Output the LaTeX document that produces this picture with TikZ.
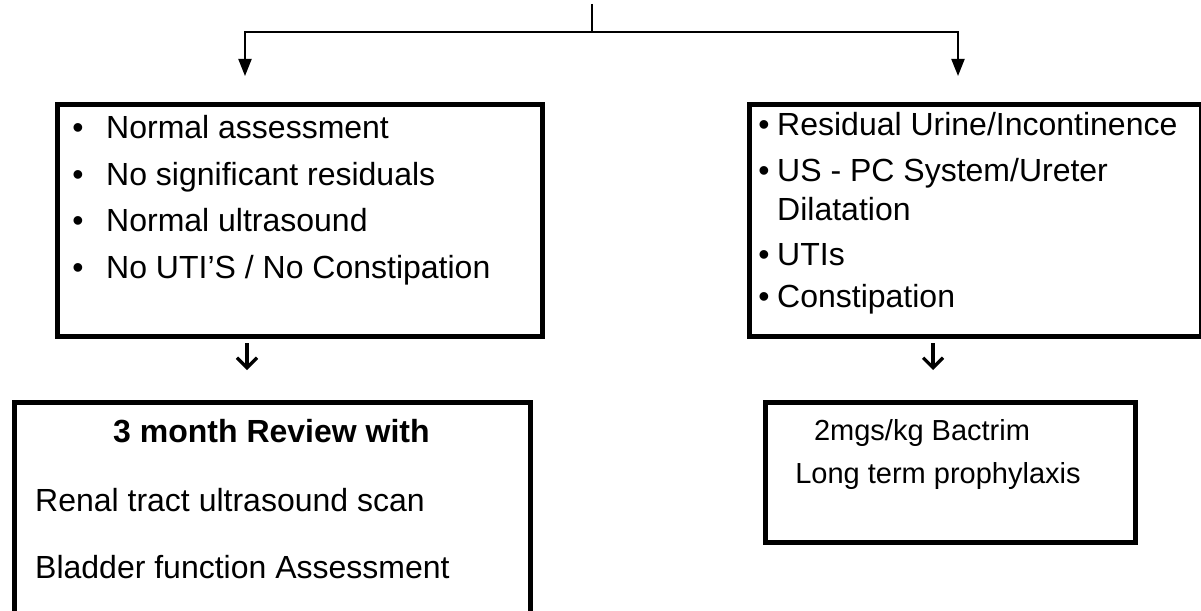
\documentclass[tikz,border=0pt]{standalone}
\usepackage{fontspec}
\setmainfont{Liberation Sans}
\usetikzlibrary{arrows.meta}
\begin{document}
\begin{tikzpicture}[x=1pt,y=-1pt,
  box/.style={draw, line width=4.5pt, inner sep=0pt, anchor=north west},
  txt/.style={anchor=base west, inner sep=0pt, font=\fontsize{32}{38}\selectfont},
  bul/.style={anchor=base, inner sep=0pt, font=\fontsize{32}{38}\selectfont},
  btxt/.style={anchor=base west, inner sep=0pt, font=\fontsize{32}{38}\selectfont\bfseries},
  stxt/.style={anchor=base, inner sep=0pt, font=\fontsize{29}{34}\selectfont},
  conn/.style={line width=2pt},
  bigarrow/.style={line width=2pt, -{Triangle[length=17pt,width=13pt]}},
  smallarrow/.style={line width=3.2pt, -{Straight Barb[length=10pt,width=20pt,line width=3.2pt]}}]
\useasboundingbox (0,0) rectangle (1201,610);
\clip (0,0) rectangle (1201,610);

% boxes
\node[box, minimum width=485pt, minimum height=232pt] (L) at (55,102) {};
\node[box, minimum width=452pt, minimum height=232pt] (R) at (747,102) {};
\node[box, minimum width=516pt, minimum height=260pt] (BL) at (12,400) {};
\node[box, minimum width=370pt, minimum height=140pt] (BR) at (763,400) {};

% top connector
\coordinate (src) at (592,4);
\coordinate (jn) at (592,32);
\coordinate (tipL) at (245,76);
\coordinate (tipR) at (958,76);
\draw[conn] (src) -- (jn);
\draw[bigarrow] (jn) -| (tipL);
\draw[bigarrow] (jn) -| (tipR);

% small arrows
\coordinate (aL1) at (247,343);
\coordinate (aL2) at (247,370);
\coordinate (aR1) at (933,343);
\coordinate (aR2) at (933,370);
\draw[smallarrow] (aL1) -- (aL2);
\draw[smallarrow] (aR1) -- (aR2);

% left box text
\node[bul] (lb1) at (78,138) {•};
\node[txt] (lt1) at (106,138) {Normal assessment};
\node[bul] (lb2) at (78,185) {•};
\node[txt] (lt2) at (106,185) {No significant residuals};
\node[bul] (lb3) at (78,231) {•};
\node[txt] (lt3) at (106,231) {Normal ultrasound};
\node[bul] (lb4) at (78,278) {•};
\node[txt] (lt4) at (106,278) {No UTI’S / No Constipation};

% right box text
\node[bul] (rb1) at (764,135) {•};
\node[txt] (rt1) at (777,135) {Residual Urine/Incontinence};
\node[bul] (rb2) at (764,181) {•};
\node[txt] (rt2) at (777,181) {US - PC System/Ureter};
\node[txt] (rt2b) at (777,220) {Dilatation};
\node[bul] (rb3) at (764,265) {•};
\node[txt] (rt3) at (777,265) {UTIs};
\node[bul] (rb4) at (764,307) {•};
\node[txt] (rt4) at (777,307) {Constipation};

% bottom left text
\node[btxt] (bl1) at (113,442) {3 month Review with};
\node[txt] (bl2) at (35,511) {Renal tract ultrasound scan};
\node[txt] (bl3) at (35,578) {Bladder function Assessment};

% bottom right text
\node[stxt] (br1) at (922,440) {2mgs/kg Bactrim};
\node[stxt] (br2) at (938,483) {Long term prophylaxis};
\end{tikzpicture}
\end{document}
